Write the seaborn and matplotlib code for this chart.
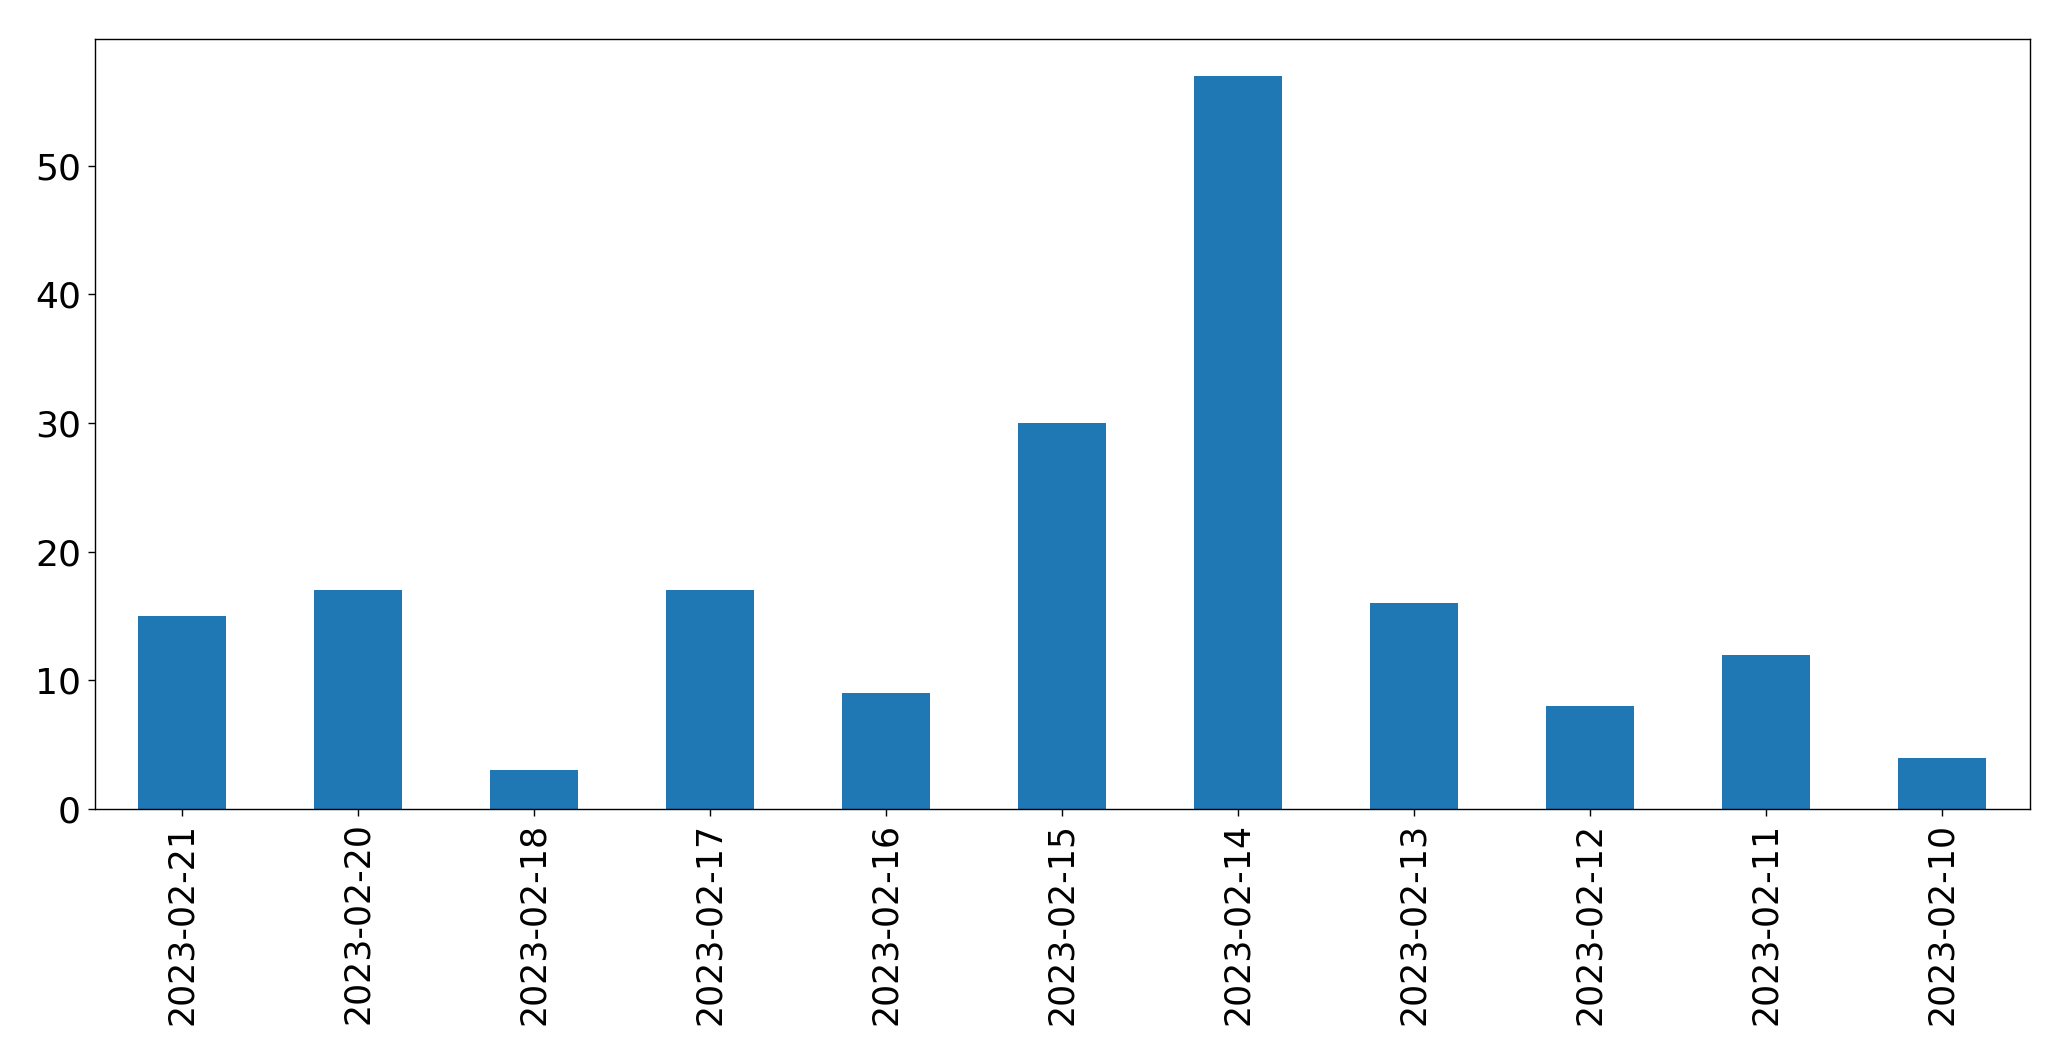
import matplotlib
matplotlib.use("Agg")
import matplotlib.pyplot as plt
import seaborn as sns
import pandas as pd

dates = ["2023-02-21", "2023-02-20", "2023-02-18", "2023-02-17", "2023-02-16",
         "2023-02-15", "2023-02-14", "2023-02-13", "2023-02-12", "2023-02-11",
         "2023-02-10"]
counts = [15, 17, 3, 17, 9, 30, 57, 16, 8, 12, 4]

df = pd.DataFrame({"date": dates, "count": counts})

plt.rcParams["font.family"] = ["DejaVu Sans"]
fig = plt.figure(figsize=(20.71, 10.61), dpi=100)
ax = fig.add_axes([94.5 / 2071, 1 - 809 / 1061, (2030 - 94.5) / 2071, (809 - 39) / 1061])
sns.barplot(data=df, x="date", y="count", order=dates, color="#1f77b4",
            saturation=1, width=0.5, ax=ax, errorbar=None, linewidth=0)
ax.set_xlim(-0.5, len(dates) - 0.5)
ax.set_ylim(0, max(counts) * 1.05)
ax.set_xlabel("")
ax.set_ylabel("")
ax.tick_params(axis="both", length=4.9, width=1, pad=4.9)
ax.tick_params(axis="x", labelsize=25, labelrotation=90)
ax.tick_params(axis="y", labelsize=26)
for s in ax.spines.values():
    s.set_visible(True)
    s.set_color("black")
    s.set_linewidth(1)
fig.savefig("out.png", dpi=100)
